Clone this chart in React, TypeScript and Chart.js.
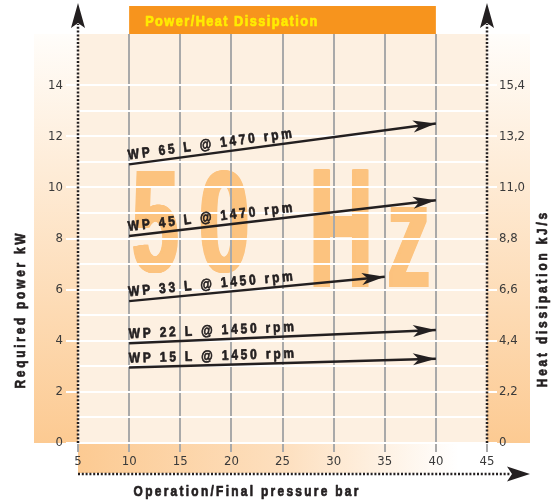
import { useEffect, useRef } from "react";
import { Chart, registerables } from "chart.js";

Chart.register(...registerables);

// ---------- data ----------
const pressureTicks = [5, 10, 15, 20, 25, 30, 35, 40, 45];
const powerTickLabels = [0, 2, 4, 6, 8, 10, 12, 14];
const powerGridLines = [0, 1, 2, 3, 4, 5, 6, 7, 8, 9, 10, 11, 12, 13, 14];
const heatTicks = [0, 2.2, 4.4, 6.6, 8.8, 11.0, 13.2, 15.4];
const heatTickLabels = ["0", "2,2", "4,4", "6,6", "8,8", "11,0", "13,2", "15,4"];

const seriesNames = [
  "WP 65 L @ 1470 rpm",
  "WP 45 L @ 1470 rpm",
  "WP 33 L @ 1450 rpm",
  "WP 22 L @ 1450 rpm",
  "WP 15 L @ 1450 rpm",
];
const startPressure = [10, 10, 10, 10, 10];
const endPressure = [40, 40, 35, 40, 40];
const startPower = [10.9, 8.1, 5.55, 3.9, 2.95];
const endPower = [12.5, 9.5, 6.5, 4.42, 3.3];

const titleText = "Power/Heat Dissipation";
const watermarkText = "50 Hz";
const xTitle = "Operation/Final pressure bar";
const yTitle = "Required power kW";
const y2Title = "Heat dissipation kJ/s";

// ---------- styles ----------
const TICKFONT = "'DejaVu Sans Condensed', 'Liberation Sans', sans-serif";
const BOLDFONT = "'Liberation Sans', Arial, sans-serif";
const SX = 0.85; // horizontal condensing
const INK = "#231F20";
const GRAY = "#A9A9A9";
const CLEAR = "rgba(0,0,0,0)";

function arrowHead(ctx: CanvasRenderingContext2D, x: number, y: number, ang: number, len: number, half: number, notch: number) {
  ctx.save();
  ctx.translate(x, y);
  ctx.rotate(ang);
  ctx.beginPath();
  ctx.moveTo(0, 0);
  ctx.lineTo(-len, -half);
  ctx.lineTo(-len + notch, 0);
  ctx.lineTo(-len, half);
  ctx.closePath();
  ctx.fill();
  ctx.restore();
}

function condText(
  ctx: CanvasRenderingContext2D,
  text: string,
  x: number,
  y: number,
  size: number,
  spacing: number,
  align: "left" | "center",
  ang = 0,
  baseline: CanvasTextBaseline = "alphabetic"
) {
  ctx.save();
  ctx.font = `bold ${size}px ${BOLDFONT}`;
  (ctx as any).letterSpacing = `${spacing / SX}px`;
  ctx.textAlign = "left";
  ctx.textBaseline = baseline;
  const w = ctx.measureText(text).width - spacing / SX;
  ctx.translate(x, y);
  ctx.rotate(ang);
  ctx.scale(SX, 1);
  const ox = align === "center" ? -w / 2 : 0;
  ctx.strokeStyle = ctx.fillStyle as string;
  ctx.lineWidth = 0.7;
  ctx.lineJoin = "round";
  ctx.strokeText(text, ox, 0);
  ctx.fillText(text, ox, 0);
  ctx.restore();
}

const decorPlugin = {
  id: "decor",
  beforeDraw(chart: any) {
    const ctx: CanvasRenderingContext2D = chart.ctx;
    const ca = chart.chartArea;
    const xs = chart.scales.x;
    ctx.save();
    // left band
    let g = ctx.createLinearGradient(0, ca.top, 0, ca.bottom);
    g.addColorStop(0, "#FFFDFA");
    g.addColorStop(1, "#FCCA92");
    ctx.fillStyle = g;
    ctx.fillRect(34, ca.top, ca.left - 34, ca.bottom - ca.top);
    // right band
    ctx.fillRect(ca.right, ca.top, 530 - ca.right, ca.bottom - ca.top);
    // bottom band
    g = ctx.createLinearGradient(ca.left, 0, ca.right, 0);
    g.addColorStop(0, "#FCCA92");
    g.addColorStop(0.5, "#FDDFBE");
    g.addColorStop(0.93, "#FFFFFF");
    ctx.fillStyle = g;
    ctx.fillRect(ca.left, ca.bottom, ca.right - ca.left, 30);
    // plot background
    ctx.fillStyle = "#FDF0E1";
    ctx.fillRect(ca.left, ca.top, ca.right - ca.left, ca.bottom - ca.top);
    // title box
    const x10 = xs.getPixelForValue(10);
    const x40 = xs.getPixelForValue(40);
    ctx.fillStyle = "#F7941D";
    ctx.fillRect(x10, 6, x40 - x10, ca.top - 6);
    ctx.fillStyle = "#FFEC00";
    condText(ctx, titleText, x10 + 16, 26, 15, 1.45, "left");
    // watermark
    const SMEAR = 4;
    const boxes = [
      { x0: 133, x1: 178, y0: 170, y1: 273 },
      { x0: 200, x1: 248, y0: 170, y1: 273 },
      null,
      { x0: 313, x1: 369, y0: 168, y1: 287 },
      { x0: 389, x1: 429, y0: 207, y1: 287 },
    ];
    ctx.fillStyle = "#FCC37F";
    ctx.font = `bold 100px ${BOLDFONT}`;
    (ctx as any).letterSpacing = "0px";
    ctx.textAlign = "left";
    ctx.textBaseline = "alphabetic";
    watermarkText.split("").forEach((ch, i) => {
      const b = boxes[i];
      if (!b || ch === " ") return;
      const m = ctx.measureText(ch);
      const w = m.actualBoundingBoxLeft + m.actualBoundingBoxRight;
      const h = m.actualBoundingBoxAscent + m.actualBoundingBoxDescent;
      for (let d = 0; d <= SMEAR; d += 0.5) {
        ctx.save();
        ctx.translate(b.x0 + d, b.y1);
        ctx.scale((b.x1 - b.x0 - SMEAR) / w, (b.y1 - b.y0) / h);
        ctx.fillText(ch, m.actualBoundingBoxLeft, -m.actualBoundingBoxDescent);
        ctx.restore();
      }
    });
    ctx.restore();
  },
  afterDatasetsDraw(chart: any) {
    const ctx: CanvasRenderingContext2D = chart.ctx;
    ctx.save();
    ctx.fillStyle = INK;
    chart.data.datasets.forEach((ds: any, i: number) => {
      const meta = chart.getDatasetMeta(i);
      const p0 = meta.data[0];
      const p1 = meta.data[1];
      const ang = Math.atan2(p1.y - p0.y, p1.x - p0.x);
      arrowHead(ctx, p1.x, p1.y, ang, 23, 6, 6);
      ctx.save();
      ctx.translate(p0.x, p0.y);
      ctx.rotate(ang);
      condText(ctx, ds.label, 0, -5, 14, 2.85, "left");
      ctx.restore();
    });
    ctx.restore();
  },
  afterDraw(chart: any) {
    const ctx: CanvasRenderingContext2D = chart.ctx;
    const ca = chart.chartArea;
    ctx.save();
    ctx.strokeStyle = INK;
    ctx.fillStyle = INK;
    ctx.lineWidth = 2.5;
    ctx.setLineDash([2, 1.8]);
    ctx.beginPath();
    ctx.moveTo(ca.left, ca.bottom);
    ctx.lineTo(ca.left, 24);
    ctx.moveTo(ca.right, ca.bottom);
    ctx.lineTo(ca.right, 24);
    ctx.moveTo(ca.left, 474);
    ctx.lineTo(510, 474);
    ctx.stroke();
    ctx.setLineDash([]);
    arrowHead(ctx, ca.left, 3, -Math.PI / 2, 25, 7, 5);
    arrowHead(ctx, ca.right, 3, -Math.PI / 2, 25, 7, 5);
    arrowHead(ctx, 530, 474, 0, 23, 7.5, 5);
    // axis titles
    condText(ctx, yTitle, 21, 311, 14, 2.75, "center", -Math.PI / 2, "middle");
    condText(ctx, y2Title, 543, 300, 14, 2.8, "center", -Math.PI / 2, "middle");
    condText(ctx, xTitle, 246, 492, 14, 2.3, "center", 0, "middle");
    ctx.restore();
  },
};

export default function App() {
  const ref = useRef<HTMLCanvasElement>(null);
  useEffect(() => {
    if (!ref.current) return;
    const datasets = seriesNames.map((name, i) => ({
      label: name,
      data: [
        { x: startPressure[i], y: startPower[i] },
        { x: endPressure[i], y: endPower[i] },
      ],
      borderColor: INK,
      backgroundColor: INK,
      borderWidth: 2.5,
      pointRadius: 0,
      tension: 0,
      fill: false,
    }));
    const tickFont = { family: TICKFONT, size: 13 };
    const chart = new Chart(ref.current, {
      type: "line",
      data: { datasets },
      plugins: [decorPlugin],
      options: {
        responsive: false,
        animation: false,
        layout: { padding: { top: 34, left: 0, right: 0, bottom: 0 } },
        plugins: {
          legend: { display: false },
          tooltip: { enabled: false },
          title: { display: false },
        },
        scales: {
          x: {
            type: "linear",
            position: "bottom",
            min: 5,
            max: 45,
            afterBuildTicks: (s: any) => {
              s.ticks = pressureTicks.map((v) => ({ value: v }));
            },
            afterFit: (s: any) => {
              s.height = 61;
            },
            grid: {
              color: (c: any) => (c.tick && c.tick.value > 5 && c.tick.value < 45 ? GRAY : CLEAR),
              tickColor: GRAY,
              lineWidth: 2,
              tickLength: 9,
            },
            border: { display: false },
            ticks: {
              font: tickFont,
              color: "#3A3A3A",
              padding: 2,
              maxRotation: 0,
              autoSkip: false,
              callback: (v: any) => String(v),
            },
          },
          y: {
            type: "linear",
            position: "left",
            min: 0,
            max: 16,
            afterBuildTicks: (s: any) => {
              s.ticks = powerGridLines.map((v) => ({ value: v }));
            },
            afterFit: (s: any) => {
              s.width = 78;
            },
            grid: {
              color: (c: any) => (c.tick && c.tick.value <= 14 ? "#FFFFFF" : CLEAR),
              tickColor: (c: any) => (c.tick && powerTickLabels.includes(c.tick.value) ? "#FFFFFF" : CLEAR),
              lineWidth: 2,
              tickLength: 12,
            },
            border: { display: false },
            ticks: {
              font: tickFont,
              color: "#3A3A3A",
              padding: 3,
              autoSkip: false,
              callback: (v: any) => (powerTickLabels.includes(v) ? String(v) : ""),
            },
          },
          y2: {
            type: "linear",
            position: "right",
            min: 0,
            max: 17.6,
            afterBuildTicks: (s: any) => {
              s.ticks = heatTicks.map((v) => ({ value: v }));
            },
            afterFit: (s: any) => {
              s.width = 67;
            },
            grid: {
              drawOnChartArea: false,
              tickColor: "#FFFFFF",
              lineWidth: 2,
              tickLength: 10,
            },
            border: { display: false },
            ticks: {
              font: tickFont,
              color: "#3A3A3A",
              padding: 2,
              autoSkip: false,
              callback: (_v: any, i: number) => heatTickLabels[i],
            },
          },
        },
      } as any,
    });
    return () => chart.destroy();
  }, []);
  return (
    <div style={{ position: "fixed", left: 0, top: 0, width: 554, height: 504, background: "#FFFFFF" }}>
      <canvas ref={ref} width={554} height={504} style={{ display: "block", width: 554, height: 504 }} />
    </div>
  );
}
